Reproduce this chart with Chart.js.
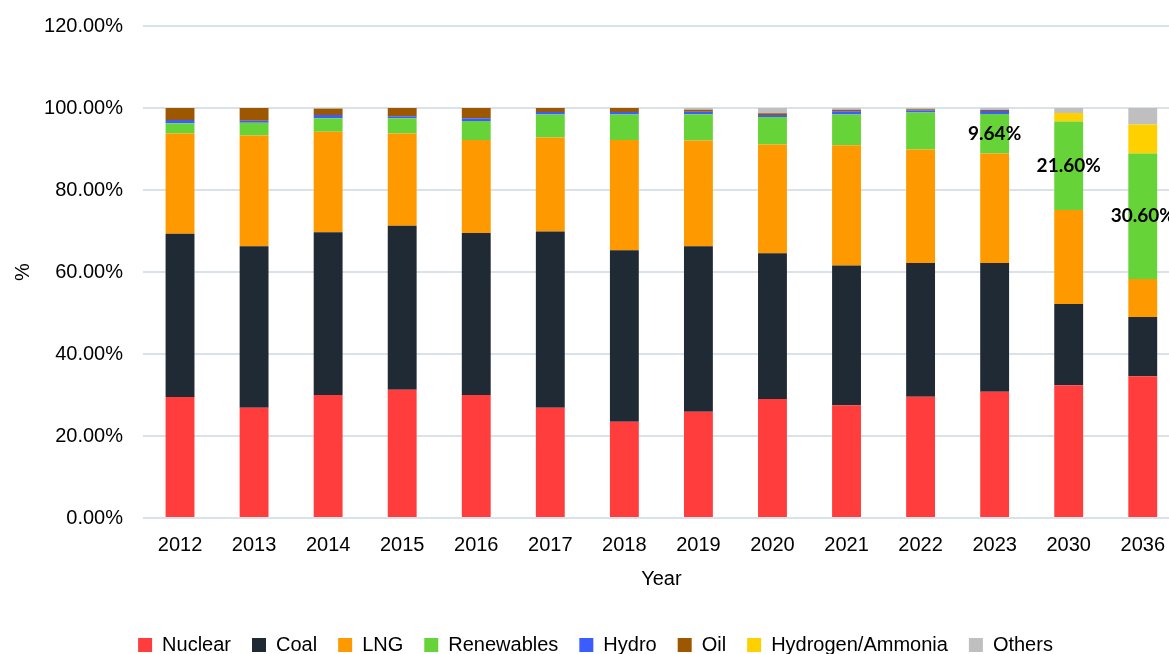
<!DOCTYPE html>
<html>
<head>
<meta charset="utf-8">
<script src="https://cdn.jsdelivr.net/npm/chart.js@4"></script>
<style>
  html, body { margin: 0; padding: 0; overflow: hidden; background: #fff; }
  #wrap { position: absolute; left: 0; top: -6px; width: 1180px; height: 671px; }
</style>
</head>
<body>
<div id="wrap"><canvas id="Demo"></canvas></div>
<script>
let years = ['2012', '2013', '2014', '2015', '2016', '2017', '2018', '2019', '2020', '2021', '2022', '2023', '2030', '2036'];

let nuclear    = [29.5, 26.9, 30.0, 31.3, 30.0, 26.9, 23.5, 25.9, 29.0, 27.5, 29.6, 30.8, 32.4, 34.6];
let coal       = [39.8, 39.4, 39.7, 40.0, 39.5, 43.0, 41.8, 40.4, 35.6, 34.1, 32.6, 31.4, 19.8, 14.4];
let lng        = [24.5, 27.0, 24.5, 22.5, 22.7, 22.9, 26.9, 25.8, 26.5, 29.3, 27.7, 26.7, 22.9, 9.3];
let renewables = [2.5, 3.1, 3.3, 3.7, 4.6, 5.6, 6.2, 6.4, 6.7, 7.5, 9.0, 9.64, 21.6, 30.6];
let hydro      = [0.8, 0.5, 0.8, 0.5, 0.7, 0.6, 0.6, 0.6, 0.5, 0.8, 0.5, 0.7, 0, 0];
let oil        = [2.9, 3.1, 1.5, 2.0, 2.5, 1.0, 1.0, 0.5, 0.4, 0.4, 0.3, 0.3, 0, 0];
let hydrogen   = [0, 0, 0, 0, 0, 0, 0, 0, 0, 0, 0, 0, 2.1, 7.1];
let others     = [0, 0, 0.2, 0, 0, 0, 0, 0.4, 1.3, 0.4, 0.3, 0.46, 1.2, 4.0];

// which renewables values get a label on the bar
let labelled = [11, 12, 13];

let yTicks = [0, 20, 40, 60, 80, 100, 120];

let fnt = '"Liberation Sans", Arial, sans-serif';

let renewLabels = {
  id: 'renewLabels',
  afterDatasetsDraw(chart) {
    let ctx = chart.ctx;
    let meta = chart.getDatasetMeta(3);
    ctx.save();
    ctx.font = 'bold 19px Lato, "Open Sans", sans-serif';
    ctx.fillStyle = '#000';
    ctx.textAlign = 'center';
    ctx.textBaseline = 'middle';
    labelled.forEach(function (i) {
      let bar = meta.data[i];
      ctx.fillText(renewables[i].toFixed(2) + '%', bar.x, (bar.y + bar.base) / 2);
    });
    ctx.restore();
  }
};

let kanvas = document.getElementById('Demo');

let grafik = new Chart(kanvas, {
  type: 'bar',
  data: {
    labels: years,
    datasets: [
      { label: 'Nuclear', data: nuclear, backgroundColor: '#ff3d3d' },
      { label: 'Coal', data: coal, backgroundColor: '#1f2a34' },
      { label: 'LNG', data: lng, backgroundColor: '#ff9900' },
      { label: 'Renewables', data: renewables, backgroundColor: '#66d438' },
      { label: 'Hydro', data: hydro, backgroundColor: '#3b5cff' },
      { label: 'Oil', data: oil, backgroundColor: '#9c5700' },
      { label: 'Hydrogen/Ammonia', data: hydrogen, backgroundColor: '#ffd000' },
      { label: 'Others', data: others, backgroundColor: '#bfbfbf' }
    ]
  },
  options: {
    responsive: true,
    maintainAspectRatio: false,
    animation: false,
    layout: { padding: { top: 9, right: 0, left: 11, bottom: 0 } },
    datasets: { bar: { categoryPercentage: 1, barPercentage: 0.39 } },
    scales: {
      x: {
        stacked: true,
        afterFit: function (axis) { axis.height = 96; },
        grid: { display: false, drawTicks: false },
        border: { display: false },
        ticks: { color: '#000', font: { family: fnt, size: 20 }, padding: 15 },
        title: { display: true, text: 'Year', color: '#000', font: { family: fnt, size: 20 }, padding: { top: 0, bottom: 23 } }
      },
      y: {
        stacked: true,
        min: 0,
        max: 120,
        afterFit: function (axis) { axis.width = 132; },
        afterBuildTicks: function (axis) { axis.ticks = yTicks.map(function (v) { return { value: v }; }); },
        grid: { color: '#d9e1e9', lineWidth: 2, drawTicks: false },
        border: { display: false },
        ticks: {
          color: '#000',
          padding: 20,
          font: { family: fnt, size: 20 },
          callback: function (v) { return v.toFixed(2) + '%'; }
        },
        title: { display: true, text: '%', color: '#000', font: { family: fnt, size: 20 }, padding: { top: 0, bottom: 0 } }
      }
    },
    plugins: {
      legend: {
        position: 'bottom',
        labels: { color: '#000', boxWidth: 14, boxHeight: 14, padding: 21, font: { family: fnt, size: 20 } }
      },
      tooltip: { enabled: false }
    }
  },
  plugins: [renewLabels]
});
</script>
</body>
</html>
